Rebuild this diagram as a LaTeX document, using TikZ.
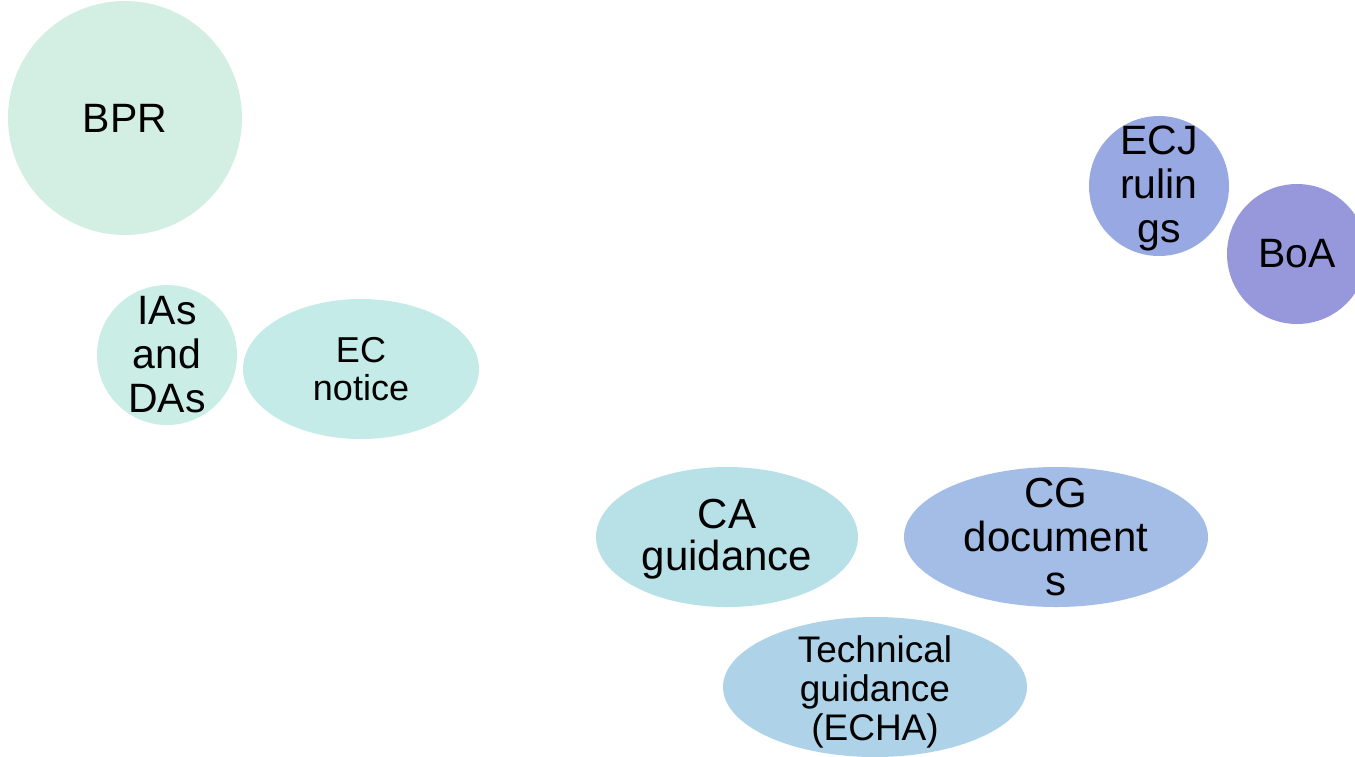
\documentclass[tikz,border=0pt]{standalone}
\usepackage{fontspec}
\setmainfont{Liberation Sans}
\usetikzlibrary{shapes.geometric}
\definecolor{cBPR}{RGB}{211,239,227}
\definecolor{cIAs}{RGB}{202,237,229}
\definecolor{cEC}{RGB}{197,235,232}
\definecolor{cCA}{RGB}{184,224,231}
\definecolor{cCG}{RGB}{163,189,230}
\definecolor{cTech}{RGB}{174,210,231}
\definecolor{cECJ}{RGB}{152,168,227}
\definecolor{cBoA}{RGB}{151,151,220}
\tikzset{
  blob/.style={ellipse, draw=none, inner sep=0pt, outer sep=0pt},
  lbl/.style={align=center, inner sep=0pt, text=black},
  big/.style={font=\fontsize{41}{44}\selectfont},
}
\begin{document}
\begin{tikzpicture}[x=1pt,y=-1pt]
\useasboundingbox (0,0) rectangle (1355,756);
\begin{scope}
\clip (0,0) rectangle (1355,756);
\node[blob, fill=cBPR, minimum width=234, minimum height=234] (bpr) at (125,118) {};
\node[blob, fill=cIAs, minimum width=140, minimum height=140] (ias) at (167,355) {};
\node[blob, fill=cEC, minimum width=236, minimum height=140] (ec) at (361,369) {};
\node[blob, fill=cECJ, minimum width=140, minimum height=140] (ecj) at (1159,186) {};
\node[blob, fill=cBoA, minimum width=140, minimum height=140] (boa) at (1297,254) {};
\node[blob, fill=cCA, minimum width=262, minimum height=140] (ca) at (727,537) {};
\node[blob, fill=cCG, minimum width=304, minimum height=140] (cg) at (1056,537) {};
\node[blob, fill=cTech, minimum width=304, minimum height=140] (tech) at (875,687) {};
\end{scope}
\node[lbl, big] (bprT) at (bpr.center) {BPR};
\node[lbl, big] (iasT) at (ias.center) {IAs\\and\\DAs};
\node[lbl, font=\fontsize{36}{38}\selectfont] (ecT) at (ec.center) {EC\\notice};
\node[lbl, big] (ecjT) at ([yshift=-2]ecj.center) {ECJ\\rulin\\gs};
\node[lbl, big] (boaT) at (boa.center) {BoA};
\node[lbl, font=\fontsize{42}{42}\selectfont] (caT) at ([yshift=-2]ca.center) {CA\\guidance};
\node[lbl, font=\fontsize{42}{44}\selectfont] (cgT) at (cg.center) {CG\\document\\s};
\node[lbl, font=\fontsize{37}{39}\selectfont] (techT) at ([yshift=-5]tech.center) {Technical\\guidance\\(ECHA)};
\end{tikzpicture}
\end{document}
